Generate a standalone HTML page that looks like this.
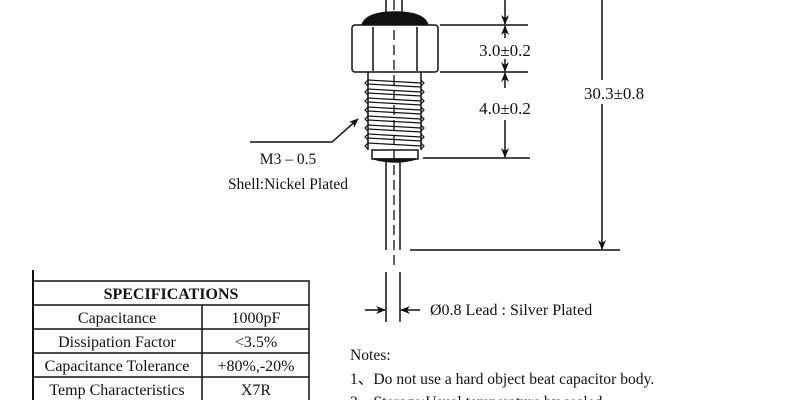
<!DOCTYPE html>
<html><head><style>
body{margin:0;width:800px;height:400px;background:#fff;overflow:hidden;position:relative;font-family:"Liberation Serif",serif;color:#111}
svg{position:absolute;left:0;top:0}
</style></head><body>
<svg width="800" height="400" viewBox="0 0 800 400" font-family="Liberation Serif, serif" fill="#111">
<defs><marker id="a" markerWidth="10" markerHeight="8" refX="9" refY="4" orient="auto" markerUnits="userSpaceOnUse"><path d="M0,0 L10,4 L0,8 L3,4 Z" fill="#111"/></marker></defs>
<g stroke="#111" stroke-width="1.5" fill="none">
<line x1="386" y1="0" x2="386" y2="14"/><line x1="402" y1="0" x2="402" y2="14"/>
<path d="M362,25 Q366,12 395,12 Q424,12 428,25 Z" fill="#111"/>
<rect x="352" y="25" width="86" height="47" rx="3" fill="#fff"/>
<line x1="373" y1="27" x2="373" y2="71"/><line x1="417" y1="27" x2="417" y2="71"/>
<path d="M368,72 L368,150 M421,72 L421,150" />
<g stroke-width="1.2">
<path d="M368,80 l-3,3 l3,3 M368,89 l-3,3 l3,3 M368,98 l-3,3 l3,3 M368,107 l-3,3 l3,3 M368,116 l-3,3 l3,3 M368,125 l-3,3 l3,3 M368,134 l-3,3 l3,3 M368,143 l-3,3 l3,3"/>
<path d="M421,80 l3,3 l-3,3 M421,89 l3,3 l-3,3 M421,98 l3,3 l-3,3 M421,107 l3,3 l-3,3 M421,116 l3,3 l-3,3 M421,125 l3,3 l-3,3 M421,134 l3,3 l-3,3 M421,143 l3,3 l-3,3"/>
<path d="M368,80 L421,83 M368,89 L421,92 M368,98 L421,101 M368,107 L421,110 M368,116 L421,119 M368,125 L421,128 M368,134 L421,137 M368,143 L421,146 M368,84 L421,87 M368,93 L421,96 M368,102 L421,105 M368,111 L421,114 M368,120 L421,123 M368,129 L421,132 M368,138 L421,141"/>
</g>
<rect x="372" y="150" width="46" height="9" fill="#fff"/>
<path d="M374,159 Q395,165 416,159 Z" fill="#111"/>
<line x1="386" y1="162" x2="386" y2="250"/><line x1="400" y1="162" x2="400" y2="250"/>
<line x1="394" y1="0" x2="394" y2="270" stroke-dasharray="10,5" stroke-width="1.3"/>
<line x1="440" y1="25" x2="528" y2="25"/><line x1="440" y1="72" x2="528" y2="72"/><line x1="423" y1="158" x2="530" y2="158"/>
<line x1="505" y1="0" x2="505" y2="24" marker-end="url(#a)"/>
<line x1="505" y1="38" x2="505" y2="26" marker-end="url(#a)"/>
<line x1="505" y1="59" x2="505" y2="71" marker-end="url(#a)"/>
<line x1="505" y1="88" x2="505" y2="73" marker-end="url(#a)"/>
<line x1="505" y1="120" x2="505" y2="157" marker-end="url(#a)"/>
<line x1="602" y1="0" x2="602" y2="80"/>
<line x1="602" y1="104" x2="602" y2="249" marker-end="url(#a)"/>
<line x1="410" y1="250" x2="620" y2="250"/>
<line x1="386" y1="272" x2="386" y2="322"/><line x1="400" y1="272" x2="400" y2="322"/>
<line x1="365" y1="310" x2="385" y2="310" marker-end="url(#a)"/>
<line x1="420" y1="310" x2="401" y2="310" marker-end="url(#a)"/>
<polyline points="250,142 332,142 358,119" marker-end="url(#a)"/>
<line x1="33" y1="270" x2="33" y2="400" stroke-width="2"/>
<rect x="33" y="281" width="276" height="130"/>
<line x1="33" y1="305" x2="309" y2="305"/><line x1="33" y1="329" x2="309" y2="329"/><line x1="33" y1="353" x2="309" y2="353"/><line x1="33" y1="377" x2="309" y2="377"/>
<line x1="202" y1="305" x2="202" y2="400"/>
</g>
<g font-size="16">
<text x="505" y="56" text-anchor="middle" font-size="17">3.0±0.2</text>
<text x="505" y="114" text-anchor="middle" font-size="17">4.0±0.2</text>
<text x="614" y="99" text-anchor="middle" font-size="17">30.3±0.8</text>
<text x="288" y="164" text-anchor="middle" font-size="15.5">M3 – 0.5</text>
<text x="288" y="189" text-anchor="middle" font-size="15.5">Shell:Nickel Plated</text>
<text x="430" y="315">Ø0.8 Lead : Silver Plated</text>
<text x="350" y="360" font-size="15.6">Notes:</text>
<text x="350" y="384" font-size="15.6">1、Do not use a hard object beat capacitor body.</text>
<text x="350" y="407" font-size="15.6">2、Storage:Usual temperature by sealed</text>
<text x="171" y="299" text-anchor="middle" font-weight="bold">SPECIFICATIONS</text>
<text x="117" y="323" text-anchor="middle">Capacitance</text>
<text x="117" y="347" text-anchor="middle">Dissipation Factor</text>
<text x="117" y="371" text-anchor="middle">Capacitance Tolerance</text>
<text x="117" y="395" text-anchor="middle">Temp Characteristics</text>
<text x="256" y="323" text-anchor="middle">1000pF</text>
<text x="256" y="347" text-anchor="middle">&lt;3.5%</text>
<text x="256" y="371" text-anchor="middle">+80%,-20%</text>
<text x="256" y="395" text-anchor="middle">X7R</text>
</g>
</svg>
</body></html>
